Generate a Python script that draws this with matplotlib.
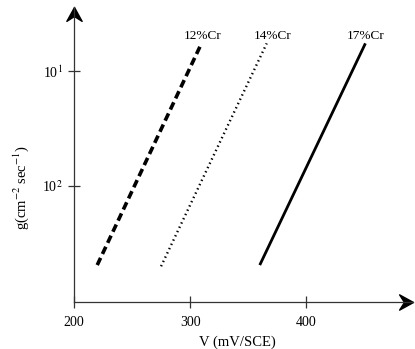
import matplotlib
matplotlib.use("Agg")
import matplotlib.pyplot as plt
from matplotlib.path import Path
import numpy as np

plt.rcParams['font.family'] = ['Liberation Serif', 'DejaVu Serif']
plt.rcParams['mathtext.fontset'] = 'stix'

# Potential (mV/SCE) and growth rate endpoints for each alloy line
labels = ["12%Cr", "14%Cr", "17%Cr"]
v_start = [220, 275, 360]
v_end = [309, 366, 451]
g_start = [2.05e-3, 2.0e-3, 2.05e-3]
g_end = [0.168, 0.175, 0.175]
styles = [dict(ls=(0, (2.2, 1.2)), lw=2.6), dict(ls=(0, (0.6, 1.4)), lw=1.7), dict(ls='-', lw=2.0)]
label_x = [311, 371, 451]

xticks = [200, 300, 400]
yticks = [1e-1, 1e-2]
ytick_labels = ["10$^{1}$", "10$^{2}$"]

fig = plt.figure(figsize=(4.15, 3.49), dpi=100)
W, H = 415, 349
ax = fig.add_axes([74 / W, 47 / H, (413 - 74) / W, (302 - 7) / H])
ax.set_yscale('log')
ax.set_xlim(200, 492)
ax.set_ylim(10 ** -3.01, 10 ** -0.44)

for vs, ve, gs, ge, st, lab, lx in zip(v_start, v_end, g_start, g_end, styles, labels, label_x):
    ax.plot([vs, ve], [gs, ge], color='black', solid_capstyle='butt', dash_capstyle='butt', **st)
    ax.text(lx, 10 ** -0.69, lab, ha='center', va='center', fontsize=9.5)

for s in ['top', 'right']:
    ax.spines[s].set_visible(False)
for s in ['left', 'bottom']:
    ax.spines[s].set_linewidth(0.9)
    ax.spines[s].set_color('#333333')

ax.set_xticks(xticks)
ax.set_xticklabels([str(t) for t in xticks])
ax.set_yticks(yticks)
ax.set_yticklabels(ytick_labels)
ax.yaxis.set_minor_locator(matplotlib.ticker.NullLocator())
ax.tick_params(axis='both', direction='inout', length=8, width=0.9, labelsize=10, color='#333333')
ax.tick_params(axis='x', pad=6)
ax.tick_params(axis='y', pad=4)

# Arrowheads at the ends of both axes
head = Path([(0, 0), (-1.0, 0.55), (-0.65, 0), (-1.0, -0.55), (0, 0)],
            [Path.MOVETO, Path.LINETO, Path.LINETO, Path.LINETO, Path.CLOSEPOLY])
ax.plot([1], [0], marker=head, ms=20, color='black', transform=ax.transAxes, clip_on=False)
head_up = Path([(0, 0), (-0.55, -1.0), (0, -0.65), (0.55, -1.0), (0, 0)],
               [Path.MOVETO, Path.LINETO, Path.LINETO, Path.LINETO, Path.CLOSEPOLY])
ax.plot([0], [1], marker=head_up, ms=20, color='black', transform=ax.transAxes, clip_on=False)

# Axis titles
fig.text(237 / W, 1 - 342 / H, "V (mV/SCE)", ha='center', va='center', fontsize=10.5)
fig.text(21 / W, 1 - 188 / H, "g(cm$^{-2}$ sec$^{-1}$)", ha='center', va='center',
         rotation=90, fontsize=10.5)

fig.savefig("out.png", dpi=100)
